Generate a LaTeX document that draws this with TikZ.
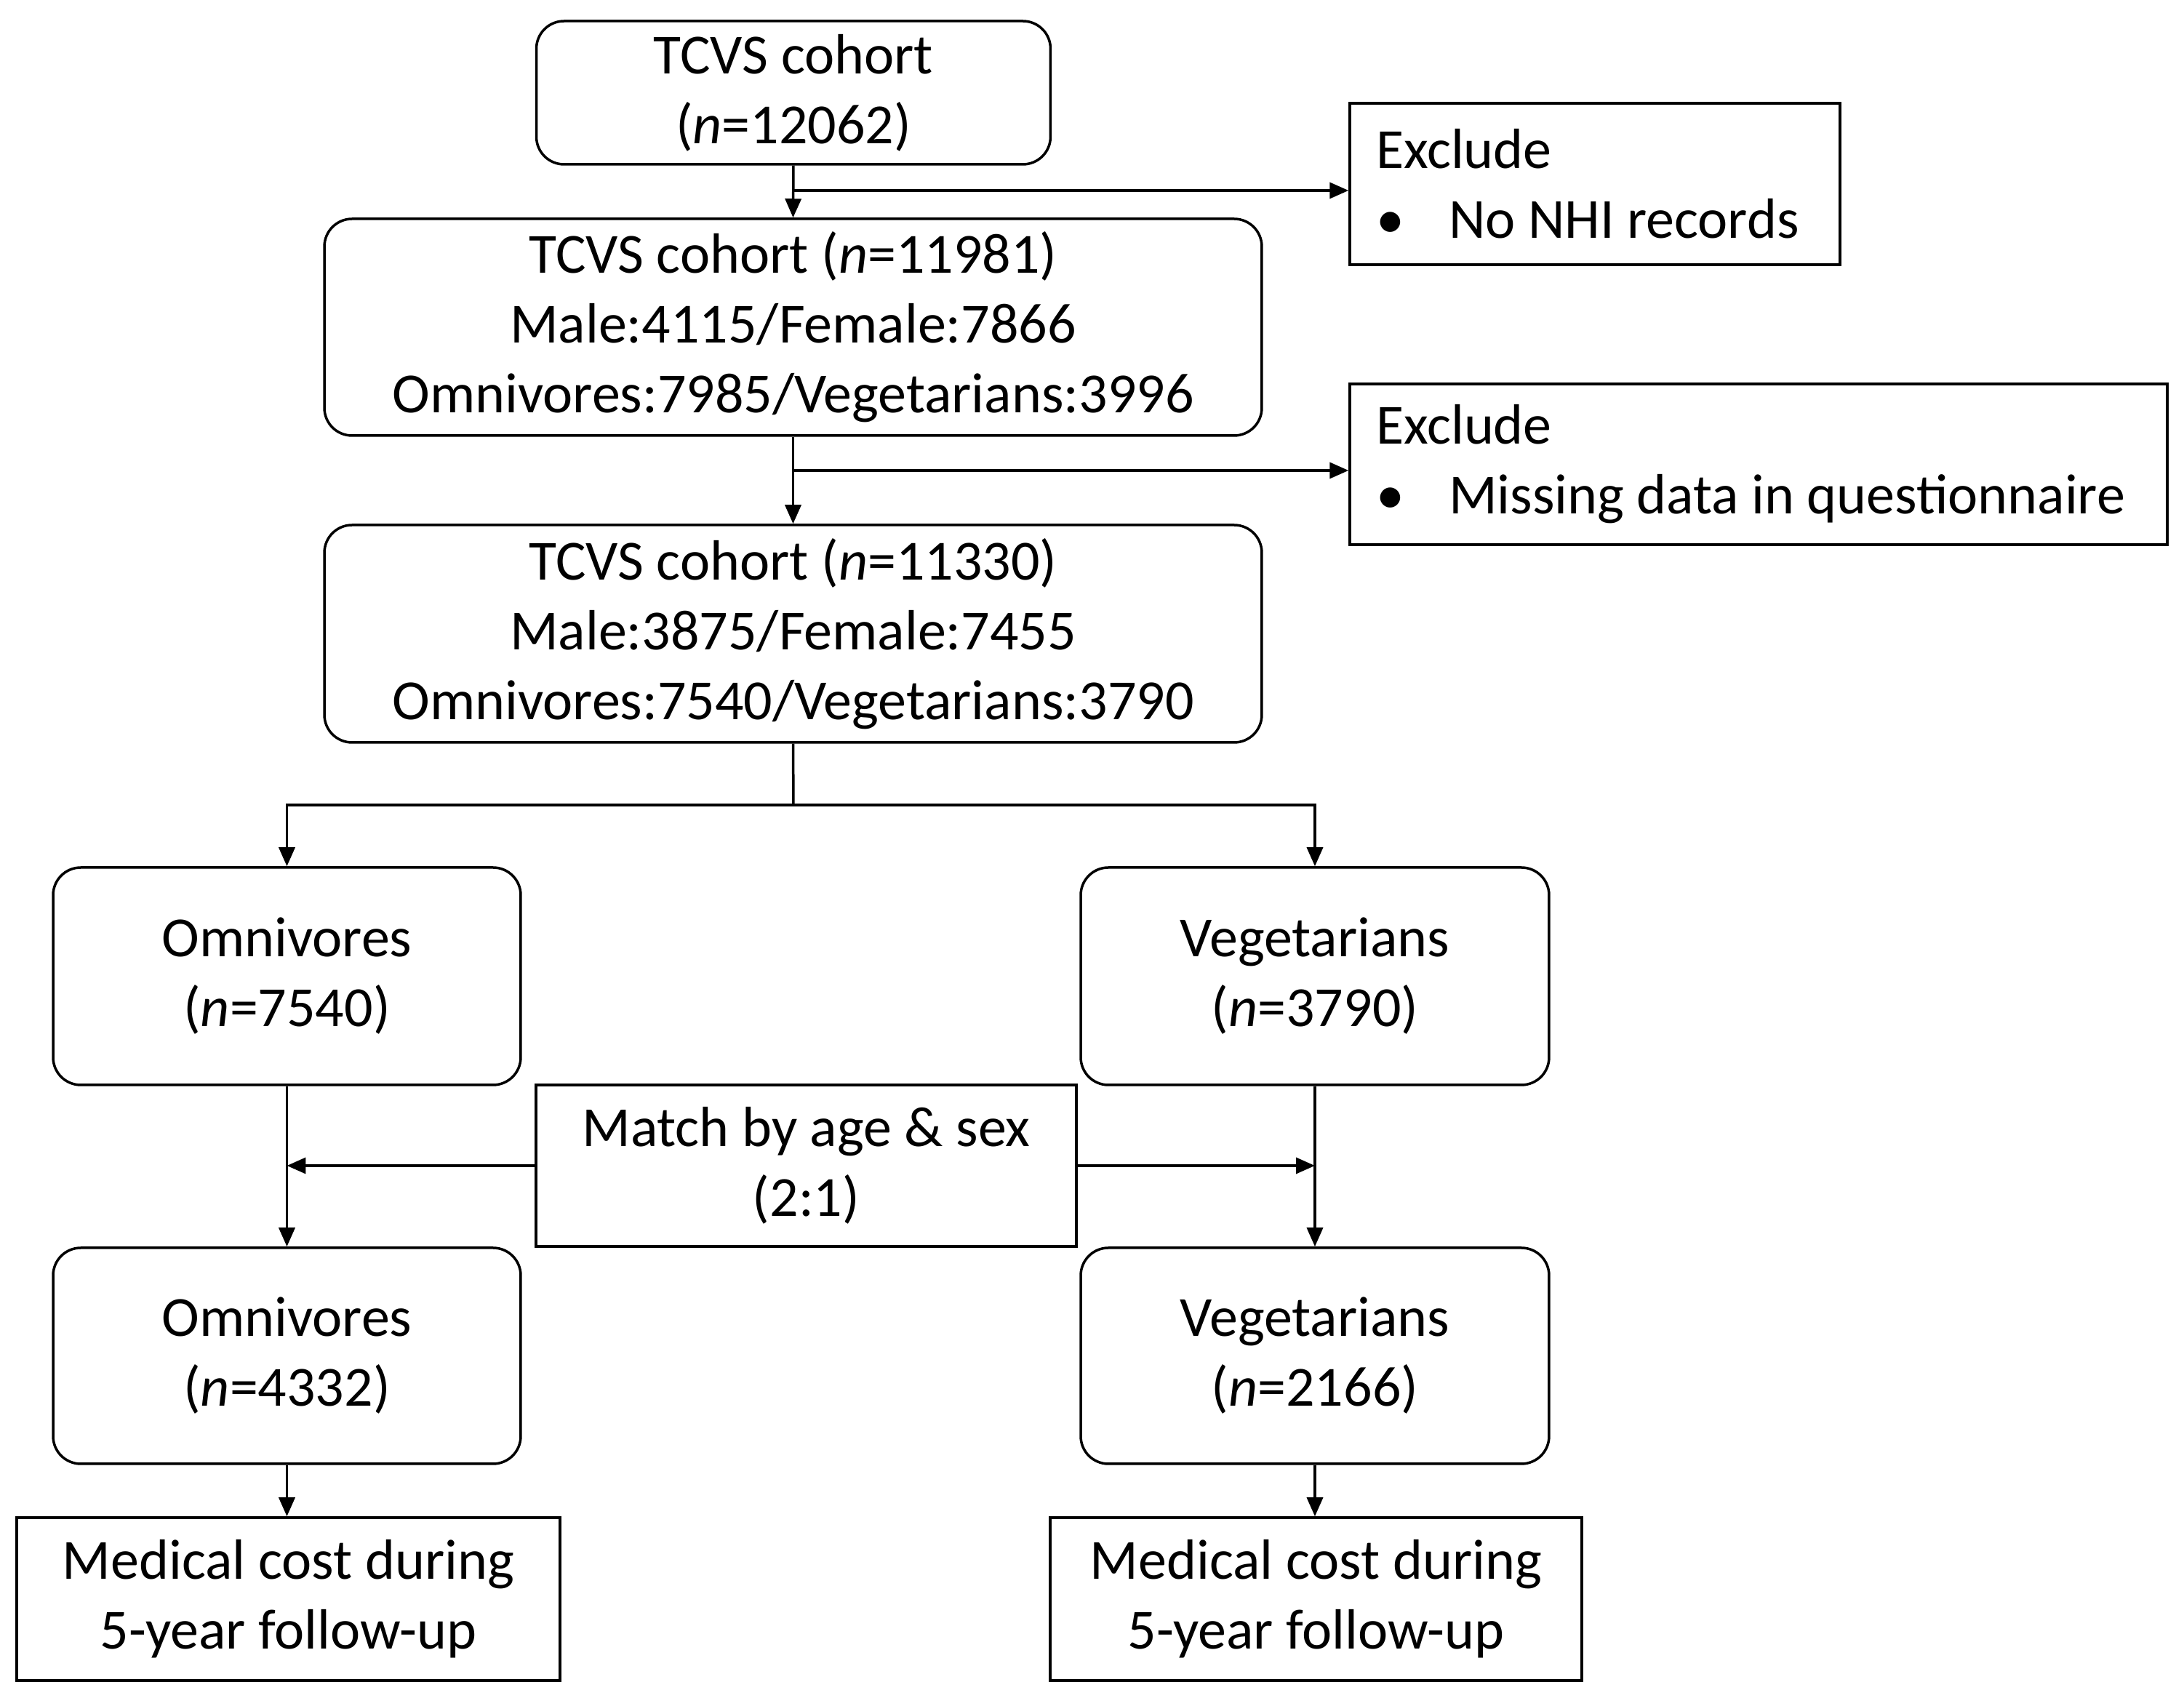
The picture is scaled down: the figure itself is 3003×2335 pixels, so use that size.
\documentclass[tikz,border=0pt]{standalone}
\usepackage{fontspec}
\setmainfont{Carlito}
\usetikzlibrary{arrows.meta,calc}
\begin{document}
\begin{tikzpicture}[x=0.1pt,y=-0.1pt,
  every node/.style={font=\fontsize{7.8pt}{9.6pt}\selectfont, inner sep=0pt, line width=0.35pt},
  rbox/.style={draw, rounded corners=3.8pt, align=center},
  pbox/.style={draw, align=center},
  lbox/.style={draw, align=flush left, inner xsep=3.6pt},
  conn/.style={line width=0.35pt},
  arr/.style={conn, -{Triangle[length=2.6pt,width=2.2pt]}}]
\useasboundingbox (0,0) rectangle (3003,2335);
% nodes
\node[rbox, minimum width=70.7pt, minimum height=19.7pt] (A) at (1091,127.5) {TCVS cohort\\(\textit{n}=12062)};
\node[rbox, minimum width=128.9pt, minimum height=29.8pt] (B) at (1090.5,450) {TCVS cohort (\textit{n}=11981)\\Male:4115/Female:7866\\Omnivores:7985/Vegetarians:3996};
\node[rbox, minimum width=128.9pt, minimum height=29.9pt] (C) at (1090.5,871.5) {TCVS cohort (\textit{n}=11330)\\Male:3875/Female:7455\\Omnivores:7540/Vegetarians:3790};
\node[lbox, text width=60.2pt, minimum height=22.2pt] (E1) at (2193,253) {Exclude\\\makebox[10pt][l]{•}\mbox{No NHI records}};
\node[lbox, text width=105.2pt, minimum height=22.1pt] (E2) at (2418,638.5) {Exclude\\\makebox[10pt][l]{•}\mbox{Missing data in questionnaire}};
\node[rbox, minimum width=64.3pt, minimum height=29.9pt] (O1) at (394.5,1342.5) {Omnivores\\(\textit{n}=7540)};
\node[rbox, minimum width=64.4pt, minimum height=29.9pt] (V1) at (1808,1342.5) {Vegetarians\\(\textit{n}=3790)};
\node[pbox, minimum width=74.3pt, minimum height=22.2pt] (M) at (1108.5,1603) {Match by age \& sex\\(2:1)};
\node[rbox, minimum width=64.3pt, minimum height=29.7pt] (O2) at (394.5,1864.5) {Omnivores\\(\textit{n}=4332)};
\node[rbox, minimum width=64.4pt, minimum height=29.7pt] (V2) at (1808,1864.5) {Vegetarians\\(\textit{n}=2166)};
\node[pbox, minimum width=74.7pt, minimum height=22.4pt] (D1) at (396.5,2199) {Medical cost during\\5-year follow-up};
\node[pbox, minimum width=73.1pt, minimum height=22.4pt] (D2) at (1809.5,2199) {Medical cost during\\5-year follow-up};
% junction coordinates
\coordinate (j1) at (1091,262);
\coordinate (j2) at (1091,647);
\coordinate (sp) at (1091,1107);
% connectors
\draw[arr] (A.south) -- (B.north);
\draw[arr] (j1) -- (j1 -| E1.west);
\draw[arr] (B.south) -- (C.north);
\draw[arr] (j2) -- (j2 -| E2.west);
\draw[conn] (C.south) -- (sp);
\draw[arr] (sp) -| (O1.north);
\draw[arr] (sp) -| (V1.north);
\draw[arr] (O1.south) -- (O2.north);
\draw[arr] (V1.south) -- (V2.north);
\draw[arr] (M.west) -- (M.west -| O1.south);
\draw[arr] (M.east) -- (M.east -| V1.south);
\draw[arr] (O2.south) -- (O2.south |- D1.north);
\draw[arr] (V2.south) -- (V2.south |- D2.north);
\end{tikzpicture}
\end{document}
